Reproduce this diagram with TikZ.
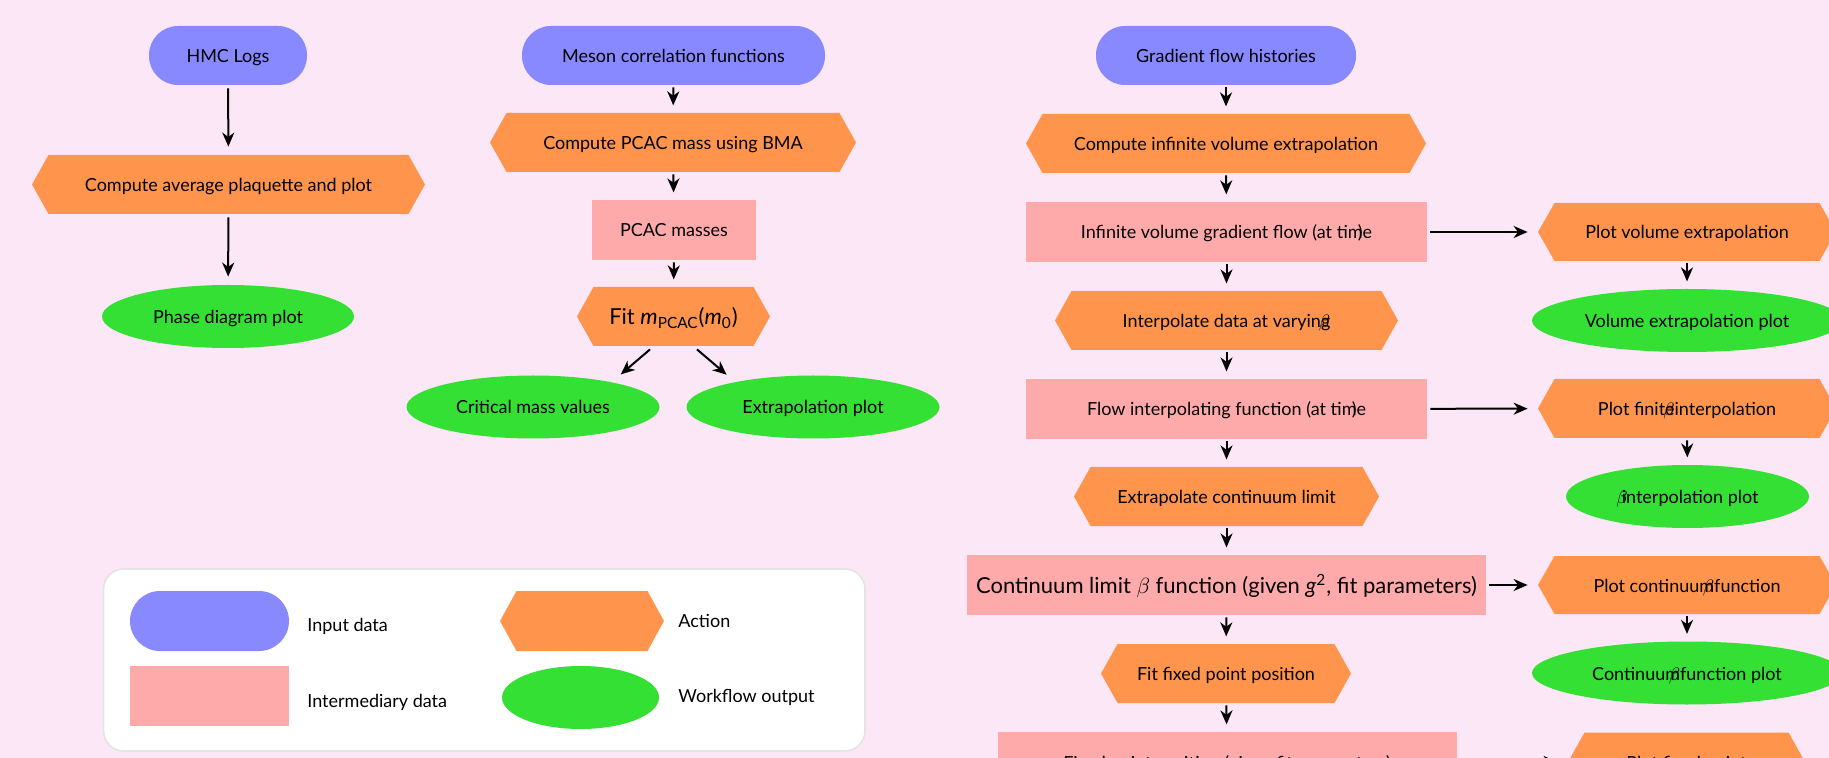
\documentclass[tikz,border=0pt]{standalone}
\usepackage{fontspec}
\setmainfont{Lato}
\usetikzlibrary{arrows.meta,shapes.geometric}
\definecolor{bgc}{RGB}{251,231,246}
\definecolor{inpc}{RGB}{136,136,255}
\definecolor{actc}{RGB}{255,148,77}
\definecolor{interc}{RGB}{255,170,170}
\definecolor{outc}{RGB}{51,224,51}
\definecolor{legc}{RGB}{228,228,228}
\begin{document}
\begin{tikzpicture}[x=0.5pt,y=-0.5pt,
  font=\fontsize{9}{11}\selectfont,
  txt/.style={text height=8pt, text depth=1pt},
  inp/.style={txt, rectangle, rounded corners=14.5pt, fill=inpc, inner sep=0pt, minimum height=29.5pt},
  inter/.style={txt, rectangle, fill=interc, inner sep=0pt, minimum height=30pt},
  outp/.style={txt, ellipse, fill=outc, inner sep=0pt, minimum height=31.5pt},
  act/.style={txt, rectangle, inner sep=0pt, minimum height=29.5pt,
    path picture={\fill[actc] (path picture bounding box.west)
      -- ([xshift=8.25pt]path picture bounding box.north west)
      -- ([xshift=-8.25pt]path picture bounding box.north east)
      -- (path picture bounding box.east)
      -- ([xshift=-8.25pt]path picture bounding box.south east)
      -- ([xshift=8.25pt]path picture bounding box.south west) -- cycle;}},
  big/.style={font=\fontsize{11}{13}\selectfont, text height=9pt, text depth=1pt},
  arr/.style={-{Stealth[length=7pt,width=6pt,inset=2.2pt]}, line width=1pt, shorten <=1pt, shorten >=3.6pt},
  harr/.style={-{Stealth[length=7pt,width=6pt,inset=2.2pt]}, line width=1pt, shorten <=1.5pt, shorten >=5pt},
  leg/.style={anchor=base west, inner sep=0pt}
]
\fill[bgc] (0,0) rectangle (1829,758);
\useasboundingbox (0,0) rectangle (1829,758);

% ---------- column 1 ----------
\node[inp, minimum width=79pt] (hmc) at (228,55.5) {HMC Logs};
\node[act, minimum width=196.5pt] (plaq) at (228.5,184.5) {Compute average plaquette and plot};
\node[outp, minimum width=126pt] (phase) at (228,316.5) {Phase diagram plot};
\draw[arr, shorten <=1.5pt, shorten >=4pt] (hmc) -- (plaq);
\draw[arr, shorten <=1.5pt, shorten >=4pt] (plaq) -- (phase);

% ---------- column 2 ----------
\node[inp, minimum width=151.5pt] (meson) at (673.5,55.5) {Meson correlation functions};
\node[act, minimum width=183pt] (pcac) at (673,142.5) {Compute PCAC mass using BMA};
\node[inter, minimum width=82pt] (masses) at (674,230) {PCAC masses};
\node[act, minimum width=96.5pt, big] (fit) at (673.5,316.5) {Fit \textit{m}\textsubscript{PCAC}(\textit{m}\textsubscript{0})};
\node[outp, minimum width=126.5pt] (crit) at (533,407) {Critical mass values};
\node[outp, minimum width=126.5pt] (extra) at (813,407) {Extrapolation plot};
\draw[arr] (meson) -- (pcac);
\draw[arr] (pcac) -- (masses);
\draw[arr] (masses) -- (fit);
\draw[arr, shorten <=0pt, shorten >=0pt] ([shift={(-23.5,3)}]fit.south) -- ([shift={(-2,-10)}]crit.north east);
\draw[arr, shorten <=0pt, shorten >=0pt] ([shift={(23.5,3)}]fit.south) -- ([shift={(3.4,-9.7)}]extra.north west);

% ---------- column 3 ----------
\node[inp, minimum width=130pt] (grad) at (1226,55.5) {Gradient flow histories};
\node[act, minimum width=200pt] (infx) at (1226,143.5) {Compute infinite volume extrapolation};
\node[inter, minimum width=200.5pt] (infv) at (1226.5,232) {Infinite volume gradient flow (at tim\llap{)}e};
\node[act, minimum width=171.5pt] (interp) at (1226.5,320.5) {Interpolate data at varying\llap{$\beta$}};
\node[inter, minimum width=200.5pt] (flowi) at (1226.5,409) {Flow interpolating function (at tim\llap{)}e};
\node[act, minimum width=152.5pt] (cont) at (1226.5,496.5) {Extrapolate continuum limit};
\node[inter, minimum width=259.5pt, big] (beta) at (1226.5,585) {Continuum limit $\beta$ function (given \textit{g}\textsuperscript{2}, fit parameters)};
\node[act, minimum width=125pt] (fixfit) at (1226,673.5) {Fit fixed point position};
\node[inter, minimum width=229.5pt] (fixed) at (1227,762) {Fixed point position (given fit parameters)};
\draw[arr] (grad) -- (infx);
\draw[arr] (infx) -- (infv);
\draw[arr] (infv) -- (interp);
\draw[arr] (interp) -- (flowi);
\draw[arr] (flowi) -- (cont);
\draw[arr] (cont) -- (beta);
\draw[arr] (beta) -- (fixfit);
\draw[arr] (fixfit) -- (fixed);

% ---------- column 4 ----------
\node[act, minimum width=149pt, minimum height=29pt] (pvol) at (1687,232) {Plot volume extrapolation};
\node[outp, minimum width=155pt] (vplot) at (1687,320.5) {Volume extrapolation plot};
\node[act, minimum width=149pt] (pfin) at (1687,408.5) {Plot finite\llap{$\beta$}interpolation};
\node[outp, minimum width=121.5pt] (bplot) at (1687.5,496.5) {\rlap{$\beta$}\hspace{0.3em}interpolation plot};
\node[act, minimum width=149pt, minimum height=29pt] (pcont) at (1687,585) {Plot continuum\llap{$\beta$}function};
\node[outp, minimum width=155pt] (cplot) at (1687,673) {Continuum\llap{$\beta$}function plot};
\node[act, minimum width=118.5pt] (pfix) at (1686.5,762) {Plot fixed point};
\draw[arr] (pvol) -- (vplot);
\draw[arr] (pfin) -- (bplot);
\draw[arr] (pcont) -- (cplot);
\draw[harr] (infv) -- (pvol);
\draw[harr] (flowi) -- (pfin);
\draw[harr] (beta) -- (pcont);
\draw[harr] (fixed) -- (pfix);

% ---------- legend ----------
\node[draw=legc, line width=0.8pt, fill=white, rounded corners=10pt, minimum width=380.7pt, minimum height=91pt, inner sep=0pt] (legend) at (484.3,660) {};
\node[inp, minimum width=79.5pt, minimum height=30pt, rounded corners=15pt] (lin) at (209.5,621) {};
\node[inter, minimum width=79.5pt] (lint) at (209.5,696) {};
\node[act, minimum width=82pt, minimum height=30pt] (lact) at (582,621) {};
\node[outp, minimum width=78.5pt] (lout) at (580.5,697.5) {};
\node[leg] (tin) at (307,631) {Input data};
\node[leg] (tint) at (307,707) {Intermediary data};
\node[leg] (tact) at (678,627) {Action};
\node[leg] (tout) at (678,702) {Workflow output};
\end{tikzpicture}
\end{document}
